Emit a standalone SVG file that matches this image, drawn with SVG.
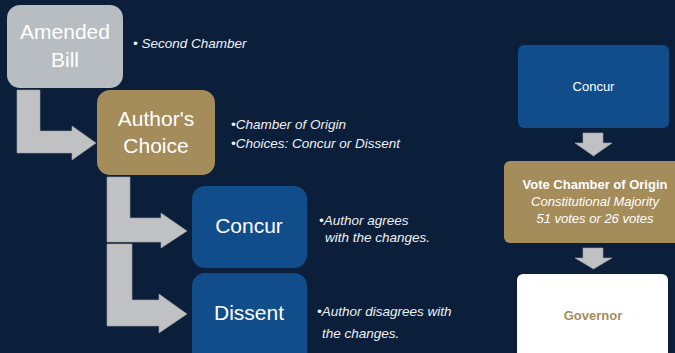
<svg xmlns="http://www.w3.org/2000/svg" width="675" height="353" viewBox="0 0 675 353">
<style>
.arrow{fill:#c0c1c3;stroke:#9ea3a8;stroke-width:0.6}
.big{font-family:"Liberation Sans",Arial,sans-serif;font-size:21px;fill:#ffffff;text-anchor:middle}
.note{font-family:"Liberation Sans",Arial,sans-serif;font-size:13.5px;font-style:italic;fill:#eef1f4}
.small{font-family:"Liberation Sans",Arial,sans-serif;font-size:13px;fill:#ffffff;text-anchor:middle}
</style>
<rect width="675" height="353" fill="#0b1f3a"/>
<g id="connectors">
<path class="arrow" d="M17,90 H40 V131 H72 V126 L96,143 L72,160 V153 H17 Z"/>
<path class="arrow" d="M107,177 H130 V218 H161 V213 L187,231 L161,248 V242 H107 Z"/>
<path class="arrow" d="M107,244 H132 V300 H159 V294 L187,314 L159,333 V326 H107 Z"/>
<path class="arrow" d="M583,133 H603 V143 H612 L593.5,156 L575,143 H583 Z"/>
<path class="arrow" d="M583,248 H603 V258 H612 L593.5,269 L575,258 H583 Z"/>
</g>
<g id="amended-bill">
<rect x="7" y="5" width="116" height="83" rx="13" fill="#b7bdc1"/>
<text class="big" x="65" y="39">Amended</text>
<text class="big" x="65" y="67">Bill</text>
<text class="note" x="133" y="48" font-size="13">• Second Chamber</text>
</g>
<g id="authors-choice">
<rect x="97" y="90" width="118" height="85" rx="13" fill="#a58c5b"/>
<text class="big" x="156" y="126">Author's</text>
<text class="big" x="156" y="153">Choice</text>
<text class="note" x="231" y="129">•Chamber of Origin</text>
<text class="note" x="231" y="148">•Choices: Concur or Dissent</text>
</g>
<g id="concur">
<rect x="192" y="186" width="115" height="82" rx="13" fill="#114c8b"/>
<text class="big" x="249" y="233">Concur</text>
<text class="note" x="319" y="225">•Author agrees</text>
<text class="note" x="325" y="242">with the changes.</text>
</g>
<g id="dissent">
<rect x="192" y="273" width="115" height="95" rx="13" fill="#114c8b"/>
<text class="big" x="249" y="320">Dissent</text>
<text class="note" x="317" y="316">•Author disagrees with</text>
<text class="note" x="322" y="338">the changes.</text>
</g>
<g id="concur-right">
<rect x="518" y="45" width="151" height="83" rx="6" fill="#114c8b"/>
<text class="small" x="593.5" y="91">Concur</text>
</g>
<g id="vote-chamber">
<rect x="504" y="161" width="184" height="82" rx="6" fill="#a58c5b"/>
<text class="small" x="595" y="189" font-weight="bold" font-size="12.8">Vote Chamber of Origin</text>
<text class="small" x="595" y="206" font-style="italic" font-size="13.5">Constitutional Majority</text>
<text class="small" x="595" y="223" font-style="italic" font-size="13">51 votes or 26 votes</text>
</g>
<g id="governor">
<rect x="517" y="274" width="151" height="95" rx="6" fill="#ffffff"/>
<text class="small" x="593" y="320" font-weight="bold" style="fill:#a58c5b">Governor</text>
</g>
</svg>
